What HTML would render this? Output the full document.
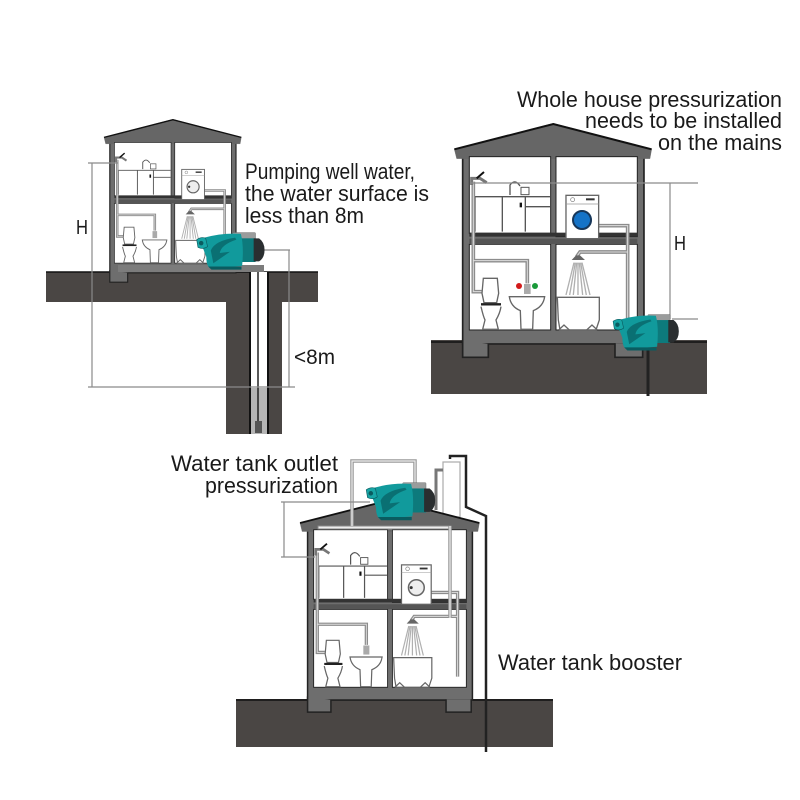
<!DOCTYPE html>
<html><head><meta charset="utf-8"><style>
html,body{margin:0;padding:0;background:#fff}
svg{display:block}
text{font-family:"Liberation Sans",sans-serif;fill:#1a1a1a;font-size:22px}
.dim{stroke:#8a8a8a;stroke-width:1.2;fill:none}
svg>use,svg>path,svg>rect,svg>circle,svg>g{filter:blur(.35px)}
</style></head><body>
<svg width="800" height="800" viewBox="0 0 800 800" xmlns="http://www.w3.org/2000/svg">
<defs>
<g id="house">
  <rect x="128" y="130" width="544" height="572" fill="#6e6e6e" stroke="#222" stroke-width="5"/>
  <path d="M128 690V742H205V702" fill="#6e6e6e" stroke="#222" stroke-width="5"/>
  <path d="M400 40L103 118L110 146H690L695 118Z" fill="#666" stroke="#666"/>
  <path d="M103 118L400 42L695 118" fill="none" stroke="#111" stroke-width="6"/>
  <g fill="#fff" stroke="#222" stroke-width="3">
    <rect x="148" y="140" width="244" height="230"/>
    <rect x="408" y="140" width="244" height="240"/>
    <rect x="148" y="403" width="244" height="257"/>
    <rect x="408" y="403" width="244" height="257"/>
  </g>
  <rect x="148" y="368" width="504" height="12" fill="#333"/>
  <rect x="148" y="386" width="504" height="16" fill="#555"/>
  <g fill="none" stroke="#555" stroke-width="4">
    <path d="M165 260H390M165 262V365M247 262V365M316 262V365M318 290H390"/>
    <path d="M270 255V225Q285 205 300 228"/>
    <rect x="303" y="232" width="24" height="22" stroke-width="3"/>
  </g>
  <rect x="299" y="278" width="7" height="14" fill="#111"/>
  <g fill="none" stroke="#8c8c8c" stroke-width="11">
    <path d="M160 215V545H185"/>
    <path d="M160 452H322V520"/>
    <path d="M536 347H623V625"/>
    <path d="M623 426H480L470 440"/>
  </g>
  <g fill="none" stroke="#ddd" stroke-width="3">
    <path d="M160 215V545H185"/>
    <path d="M160 452H322V520"/>
    <path d="M536 347H623V625"/>
    <path d="M623 426H480L470 440"/>
  </g>
  <path d="M155 225V205H180L200 218" fill="none" stroke="#777" stroke-width="9"/>
  <path d="M170 205L192 186" stroke="#111" stroke-width="6"/>
  <rect x="438" y="256" width="98" height="130" fill="#fff" stroke="#666" stroke-width="4"/>
  <path d="M438 282H536" stroke="#999" stroke-width="2"/>
  <rect x="498" y="265" width="26" height="6" fill="#333"/>
  <circle cx="458" cy="269" r="6" fill="none" stroke="#777" stroke-width="2"/>
  <circle cx="487" cy="331" r="26" fill="#eee" stroke="#666" stroke-width="5"/>
  <circle cx="470" cy="331" r="5" fill="#333"/>
  <path d="M190 505H232L236 550 230 578H192L186 550Z" fill="#fff" stroke="#666" stroke-width="4"/>
  <path d="M183 583H243" stroke="#222" stroke-width="7"/>
  <path d="M183 590Q190 620 195 630L188 658H235L228 630Q240 610 243 590" fill="#fff" stroke="#666" stroke-width="4"/>
  <path d="M268 560H374Q370 590 340 602L338 658H303L301 602Q272 590 268 560Z" fill="#fff" stroke="#666" stroke-width="4"/>
  <path d="M312 522H332V552H312Z" fill="#aaa"/>
  <path d="M455 450H495L480 436H468Z" fill="#666"/>
  <g stroke="#b0b0b0" stroke-width="4">
    <path d="M462 458L438 555M466 458L449 555M470 458L460 555M474 458V555M478 458L488 555M482 458L499 555M486 458L510 555"/>
  </g>
  <path d="M412 562H538V630L528 660H420L415 630Z" fill="#fff" stroke="#666" stroke-width="4"/>
  <path d="M416 660L432 645 448 660M500 660L516 645 532 660" fill="none" stroke="#666" stroke-width="4"/>
</g>
<g id="foot"><path d="M585 700V742H668V700" fill="#6e6e6e" stroke="#222" stroke-width="5"/></g>
<g id="pump">
  <rect x="122" y="8" width="72" height="30" rx="3" fill="#9a9c9c" stroke="#555"/>
  <rect x="146" y="26" width="48" height="74" fill="#0d7a7c"/>
  <path d="M188 26H205Q222 38 222 62Q222 88 205 98H188Z" fill="#2a2e30"/>
  <path d="M34 24Q90 8 148 12Q158 50 152 112L52 120Q40 112 40 84L30 58Z" fill="#119a9c"/>
  <path d="M54 64Q66 34 130 24L134 30Q86 46 82 72L114 68L62 104Z" fill="#0a7073"/>
  <path d="M46 114H150V124H56Z" fill="#0a5c60"/>
  <path d="M10 30Q26 20 38 26L44 52Q30 62 14 54Z" fill="#17a5a5" stroke="#0a5c60" stroke-width="2"/>
  <circle cx="24" cy="41" r="7" fill="#0a5c60"/>
</g>
<path id="hpipe" d="M150 378H438"/>
</defs>

<!-- House 1 -->
<path d="M46 272H318V302H282V434H226V302H46Z" fill="#4a4644"/>
<path d="M46 272H318" stroke="#111" stroke-width="1.5"/>
<rect x="250" y="272" width="18" height="162" fill="#fff"/>
<rect x="251" y="388" width="16" height="46" fill="#b5b5b5"/>
<path d="M250 272V434M268 272V434" stroke="#111" stroke-width="2"/>
<path d="M258 272V421" stroke="#222" stroke-width="1.5"/>
<rect x="255" y="421" width="7" height="12" fill="#555"/>
<use href="#house" transform="translate(80.1 110) scale(.232)"/>
<rect x="118" y="265" width="146" height="7" fill="#7c7c7c"/>
<g class="dim">
  <path d="M88 163H118M92 163V387M88 387H295M289 250V387M262 250H290"/>
</g>
<use href="#pump" transform="translate(193.5 230) scale(.32)"/>
<text x="245" y="179" textLength="170" lengthAdjust="spacingAndGlyphs">Pumping well water,</text>
<text x="245" y="201" textLength="184" lengthAdjust="spacingAndGlyphs">the water surface is</text>
<text x="245" y="223" textLength="119" lengthAdjust="spacingAndGlyphs">less than 8m</text>
<text x="76" y="234" style="font-size:20px" textLength="12" lengthAdjust="spacingAndGlyphs">H</text>
<text x="294" y="364" textLength="41" lengthAdjust="spacingAndGlyphs" style="font-size:21px">&lt;8m</text>

<!-- House 2 -->
<rect x="431" y="340" width="276" height="54" fill="#4a4644"/>
<path d="M431 342H707" stroke="#111" stroke-width="1.5"/>
<use href="#house" transform="translate(420 110) scale(.3333)"/>
<use href="#foot" transform="translate(420 110) scale(.3333)"/>
<circle cx="582" cy="220" r="9" fill="#1573c7" stroke="#17375a" stroke-width="2"/>
<circle cx="519" cy="286" r="3" fill="#d21a1a"/>
<circle cx="535" cy="286" r="3" fill="#1a9a3a"/>
<path d="M648 350V396" stroke="#222" stroke-width="3"/>
<g class="dim">
  <path d="M470 183H698M670 183V319M672 319H698"/>
</g>
<use href="#pump" transform="translate(610 312) scale(.31)"/>
<text x="517" y="107" textLength="265" lengthAdjust="spacingAndGlyphs">Whole house pressurization</text>
<text x="585" y="128" textLength="197" lengthAdjust="spacingAndGlyphs">needs to be installed</text>
<text x="658" y="150" textLength="124" lengthAdjust="spacingAndGlyphs">on the mains</text>
<text x="674" y="250" style="font-size:20px" textLength="12" lengthAdjust="spacingAndGlyphs">H</text>

<!-- House 3 -->
<rect x="236" y="699" width="317" height="48" fill="#4a4644"/>
<path d="M236 700H553" stroke="#111" stroke-width="1.5"/>
<rect x="443" y="462" width="17" height="55" fill="#fff" stroke="#aaa" stroke-width="1.2"/>
<path d="M436 510V470H443" fill="none" stroke="#777" stroke-width="3"/>
<path d="M450 459V456H466V507L486 516V752" fill="none" stroke="#222" stroke-width="2.5"/>
<use href="#house" transform="translate(268.8 487.3) scale(.303)"/>
<use href="#foot" transform="translate(268.8 487.3) scale(.303)"/>
<rect x="318" y="526" width="133" height="3" fill="#eee" stroke="#888" stroke-width="1"/>
<path d="M352 526V461H415V490" fill="none" stroke="#999" stroke-width="3.5"/>
<path d="M352 526V461H415V490" fill="none" stroke="#eee" stroke-width="1.2"/>
<path d="M450 526V618" fill="none" stroke="#999" stroke-width="3.5"/>
<path d="M450 526V618" fill="none" stroke="#eee" stroke-width="1.2"/>
<g class="dim">
  <path d="M281 502H370M284 502V557M281 557H315"/>
</g>
<use href="#pump" transform="translate(363 480) scale(.325)"/>
<text x="171" y="471" textLength="167" lengthAdjust="spacingAndGlyphs">Water tank outlet</text>
<text x="205" y="493" textLength="133" lengthAdjust="spacingAndGlyphs">pressurization</text>
<text x="498" y="670" textLength="184" lengthAdjust="spacingAndGlyphs">Water tank booster</text>
</svg>
</body></html>
